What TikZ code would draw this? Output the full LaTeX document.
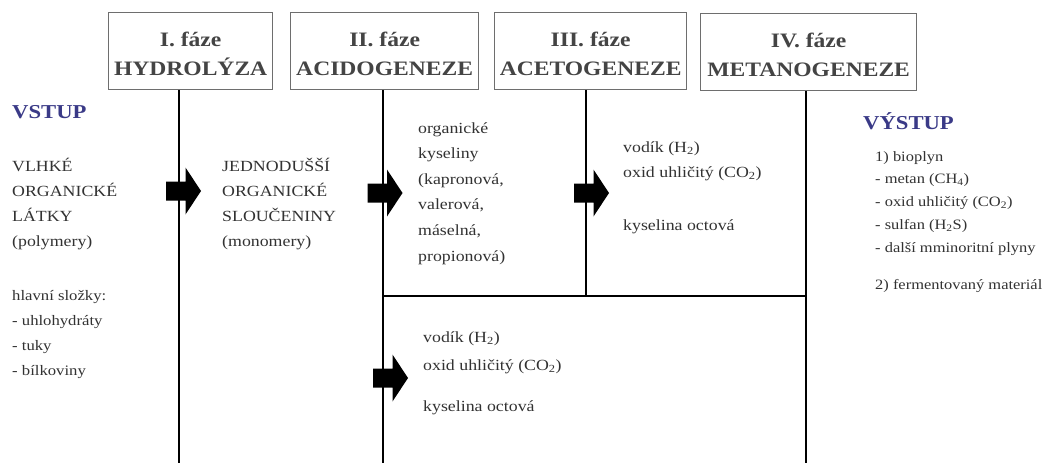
\documentclass[tikz,border=0pt]{standalone}
\usepackage{fontspec}
\setmainfont{Liberation Serif}[FakeStretch=1.15]
\definecolor{txt}{RGB}{50,50,50}
\definecolor{hdr}{RGB}{68,68,68}
\definecolor{boxc}{RGB}{110,110,110}
\definecolor{blu}{RGB}{58,58,135}
\newcommand{\txtblock}[1]{\begin{tabular}[t]{@{}l@{}}#1\end{tabular}}
\tikzset{
  phase/.style={draw=boxc, line width=1.3pt, text=hdr, align=center, inner sep=0pt,
    anchor=north west, minimum height=77pt,
    font=\fontsize{20.5}{29}\selectfont\bfseries},
  vline/.style={line width=2.7pt, black},
  body/.style={anchor=base west, inner sep=0pt, text=txt,
    font=\fontsize{15.5}{25}\selectfont},
  small/.style={anchor=base west, inner sep=0pt, text=txt,
    font=\fontsize{14.5}{25}\selectfont},
  right/.style={anchor=base west, inner sep=0pt, text=txt,
    font=\fontsize{14.3}{22.8}\selectfont},
  title/.style={anchor=base west, inner sep=0pt, text=blu,
    font=\fontsize{19.7}{22}\selectfont\bfseries},
  blockarrow/.pic={\fill[black] (-17.5,-9.5) -- (2,-9.5) -- (2,-23.5) -- (17.5,0) -- (2,23.5) -- (2,9.5) -- (-17.5,9.5) -- cycle;}
}
\begin{document}
\begin{tikzpicture}[x=1pt,y=-1pt]
\useasboundingbox (0,0) rectangle (1058,463);
\fill[white] (0,0) rectangle (1058,463);
% phase boxes
\node[phase, minimum width=164pt] (h1) at (108,12) {\rule{0pt}{20.5pt}I. fáze\\HYDROLÝZA};
\node[phase, minimum width=188pt] (h2) at (290,12) {\rule{0pt}{20.5pt}II. fáze\\ACIDOGENEZE};
\node[phase, minimum width=192pt] (h3) at (494,12) {\rule{0pt}{20.5pt}III. fáze\\ACETOGENEZE};
\node[phase, minimum width=216pt] (h4) at (700,13) {\rule{0pt}{20.5pt}IV. fáze\\METANOGENEZE};
% line ends
\coordinate (v1) at (179,463);
\coordinate (v2) at (383,463);
\coordinate (v3) at (586,463);
\coordinate (v4) at (806,463);
\coordinate (hj) at (0,296);
% lines
\draw[vline] (v1 |- h1.south) -- (v1);
\draw[vline] (v2 |- h2.south) -- (v2);
\draw[vline] (v3 |- h3.south) -- (v3 |- hj);
\draw[vline] (v4 |- h4.south) -- (v4);
\draw[vline] (v2 |- hj) -- (v4 |- hj);
% arrows
\pic (a1) at (183.5,191) {blockarrow};
\pic (a2) at (385,193) {blockarrow};
\pic (a3) at (591.5,193) {blockarrow};
\pic (a4) at (390.5,378) {blockarrow};
% texts
\node[title] (vstup) at (12,118) {VSTUP};
\node[body] (inp) at (12,171) {\txtblock{VLHKÉ\\ORGANICKÉ\\LÁTKY\\(polymery)}};
\node[small] (comp) at (12,300) {\txtblock{hlavní složky:\\- uhlohydráty\\- tuky\\- bílkoviny}};
\node[body] (mono) at (222,171) {\txtblock{JEDNODUŠŠÍ\\ORGANICKÉ\\SLOUČENINY\\(monomery)}};
\node[body, font=\fontsize{15.5}{25.6}\selectfont] (acids) at (418,133) {\txtblock{organické\\kyseliny\\(kapronová,\\valerová,\\máselná,\\propionová)}};
\node[body] (gas1) at (623,152) {\txtblock{vodík (H\textsubscript{2})\\oxid uhličitý (CO\textsubscript{2})\\[28pt]kyselina octová}};
\node[body, font=\fontsize{15.5}{28}\selectfont] (gas2) at (423,342.5) {\txtblock{vodík (H\textsubscript{2})\\oxid uhličitý (CO\textsubscript{2})\\[13pt]kyselina octová}};
\node[title] (vystup) at (863,129) {VÝSTUP};
\node[right] (out) at (875,161) {\txtblock{1) bioplyn\\- metan (CH\textsubscript{4})\\- oxid uhličitý (CO\textsubscript{2})\\- sulfan (H\textsubscript{2}S)\\- další mminoritní plyny\\[14pt]2) fermentovaný materiál}};
\end{tikzpicture}
\end{document}
